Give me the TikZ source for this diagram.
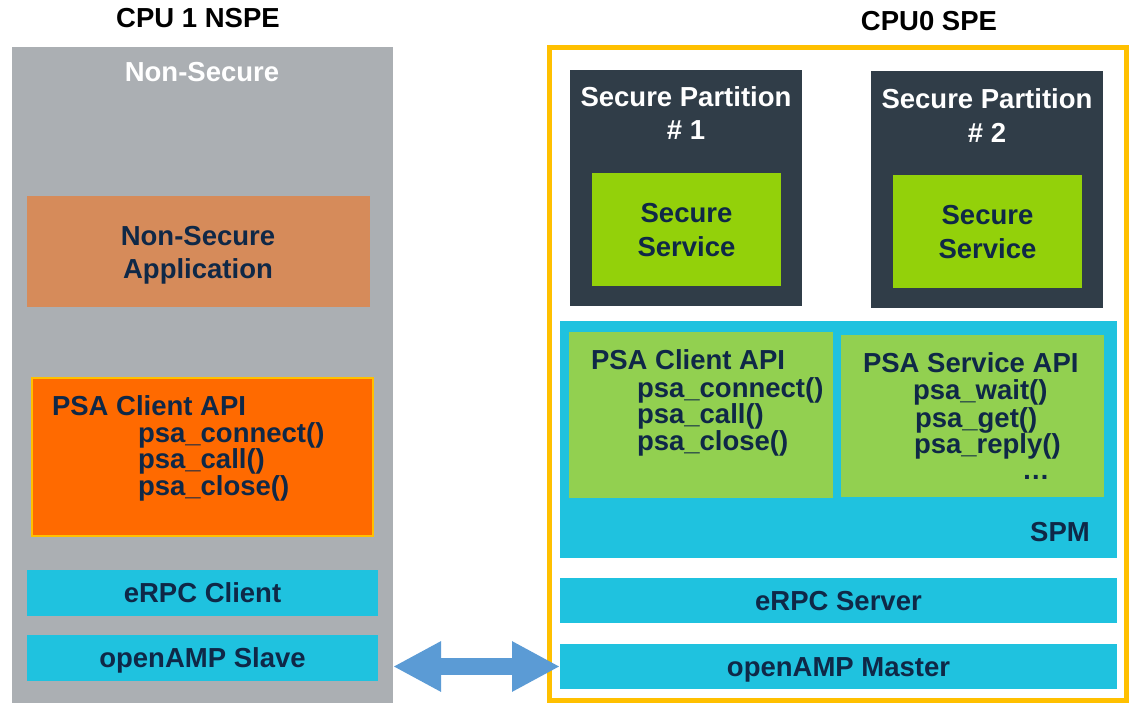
\documentclass[tikz,border=0pt]{standalone}
\usepackage{fontspec}
\setmainfont{Liberation Sans}
\usetikzlibrary{arrows.meta}

\definecolor{nsgray}{HTML}{ABAFB3}
\definecolor{appor}{HTML}{D68B5A}
\definecolor{psaor}{HTML}{FF6A00}
\definecolor{ylw}{HTML}{FFC000}
\definecolor{cyn}{HTML}{1FC2DF}
\definecolor{navy}{HTML}{0F2847}
\definecolor{slate}{HTML}{303D48}
\definecolor{lime}{HTML}{93D10A}
\definecolor{pgreen}{HTML}{92D050}
\definecolor{linkblue}{HTML}{5B9BD5}

\newcommand\diagfont{\fontsize{27.5}{30}\selectfont\bfseries}

\tikzset{
  blk/.style={rectangle, inner sep=0pt, outer sep=0pt, anchor=north west, draw=none,
              font=\diagfont, text=navy, text height=19.7pt, text depth=0pt},
  txt/.style={inner sep=0pt, outer sep=0pt, font=\diagfont, text=navy},
  ctxt/.style={txt, anchor=base},
  ltxt/.style={txt, anchor=base west},
  link/.style={linkblue, line width=17pt,
               {Triangle[length=48pt,width=47pt]}-{Triangle[length=48pt,width=47pt]}},
}

\begin{document}
\begin{tikzpicture}[x=1pt,y=-1pt]
\useasboundingbox (0,0) rectangle (1130,703);

% ---- CPU 1: non-secure side ----
\node[ctxt, text=black] (t-ns) at (198,28) {CPU 1 NSPE};
\node[blk, fill=nsgray, minimum width=381pt, minimum height=656pt] (ns) at (12,47) {};
\node[ctxt, text=white] (ns-lbl) at (202,82) {Non-Secure};

\node[blk, fill=appor, minimum width=343pt, minimum height=111pt] (app) at (27,196) {};
\node[ctxt] (app-l1) at (198,246) {Non-Secure};
\node[ctxt] (app-l2) at (198,279) {Application};

\node[blk, fill=psaor, draw=ylw, line width=2pt, minimum width=341pt, minimum height=158pt] (nsapi) at (32,378) {};
\node[ltxt] (nsapi-h) at (52,415) {PSA Client API};
\node[ltxt] (nsapi-1) at (138,442) {psa\_connect()};
\node[ltxt] (nsapi-2) at (138,468) {psa\_call()};
\node[ltxt] (nsapi-3) at (138,495) {psa\_close()};

\node[blk, fill=cyn, minimum width=351pt, minimum height=46pt] (erpcc) at (27,570) {eRPC Client};
\node[blk, fill=cyn, minimum width=351pt, minimum height=46pt] (slv) at (27,635) {openAMP Slave};

% ---- CPU 0: secure side ----
\node[ctxt, text=black] (t-s) at (929,31) {CPU0 SPE};
\node[blk, draw=ylw, line width=5pt, minimum width=577pt, minimum height=653pt] (spe) at (549.5,47.5) {};

\node[blk, fill=slate, minimum width=232pt, minimum height=236pt] (sp1) at (570,70) {};
\node[ctxt, text=white] (sp1-l1) at (686,107) {Secure Partition};
\node[ctxt, text=white] (sp1-l2) at (686,140) {\# 1};
\node[blk, fill=lime, minimum width=189pt, minimum height=113pt] (ss1) at (592,173) {};
\node[ctxt] (ss1-l1) at (686.5,223) {Secure};
\node[ctxt] (ss1-l2) at (686.5,257) {Service};

\node[blk, fill=slate, minimum width=232pt, minimum height=237pt] (sp2) at (871,71) {};
\node[ctxt, text=white] (sp2-l1) at (987,109) {Secure Partition};
\node[ctxt, text=white] (sp2-l2) at (987,143) {\# 2};
\node[blk, fill=lime, minimum width=189pt, minimum height=113pt] (ss2) at (893,175) {};
\node[ctxt] (ss2-l1) at (987.5,225) {Secure};
\node[ctxt] (ss2-l2) at (987.5,259) {Service};

\node[blk, fill=cyn, minimum width=557pt, minimum height=237pt] (spm) at (560,321) {};
\node[ctxt] (spm-lbl) at (1060,541) {SPM};

\node[blk, fill=pgreen, minimum width=264pt, minimum height=166pt] (capi) at (569,332) {};
\node[ltxt] (capi-h) at (591,370) {PSA Client API};
\node[ltxt] (capi-1) at (637,397) {psa\_connect()};
\node[ltxt] (capi-2) at (637,423) {psa\_call()};
\node[ltxt] (capi-3) at (637,450) {psa\_close()};

\node[blk, fill=pgreen, minimum width=263pt, minimum height=162pt] (sapi) at (841,335) {};
\node[ltxt] (sapi-h) at (863,373) {PSA Service API};
\node[ltxt] (sapi-1) at (913,399) {psa\_wait()};
\node[ltxt] (sapi-2) at (915,427) {psa\_get()};
\node[ltxt] (sapi-3) at (914,453) {psa\_reply()};
\node[ltxt] (sapi-4) at (1022,479) {…};

\node[blk, fill=cyn, minimum width=557pt, minimum height=45pt] (erpcs) at (560,578) {eRPC Server};
\node[blk, fill=cyn, minimum width=557pt, minimum height=45pt] (mst) at (560,644) {openAMP Master};

% ---- inter-core link ----
\draw[link] (mst.west -| ns.east) -- (mst.west);
\end{tikzpicture}
\end{document}
